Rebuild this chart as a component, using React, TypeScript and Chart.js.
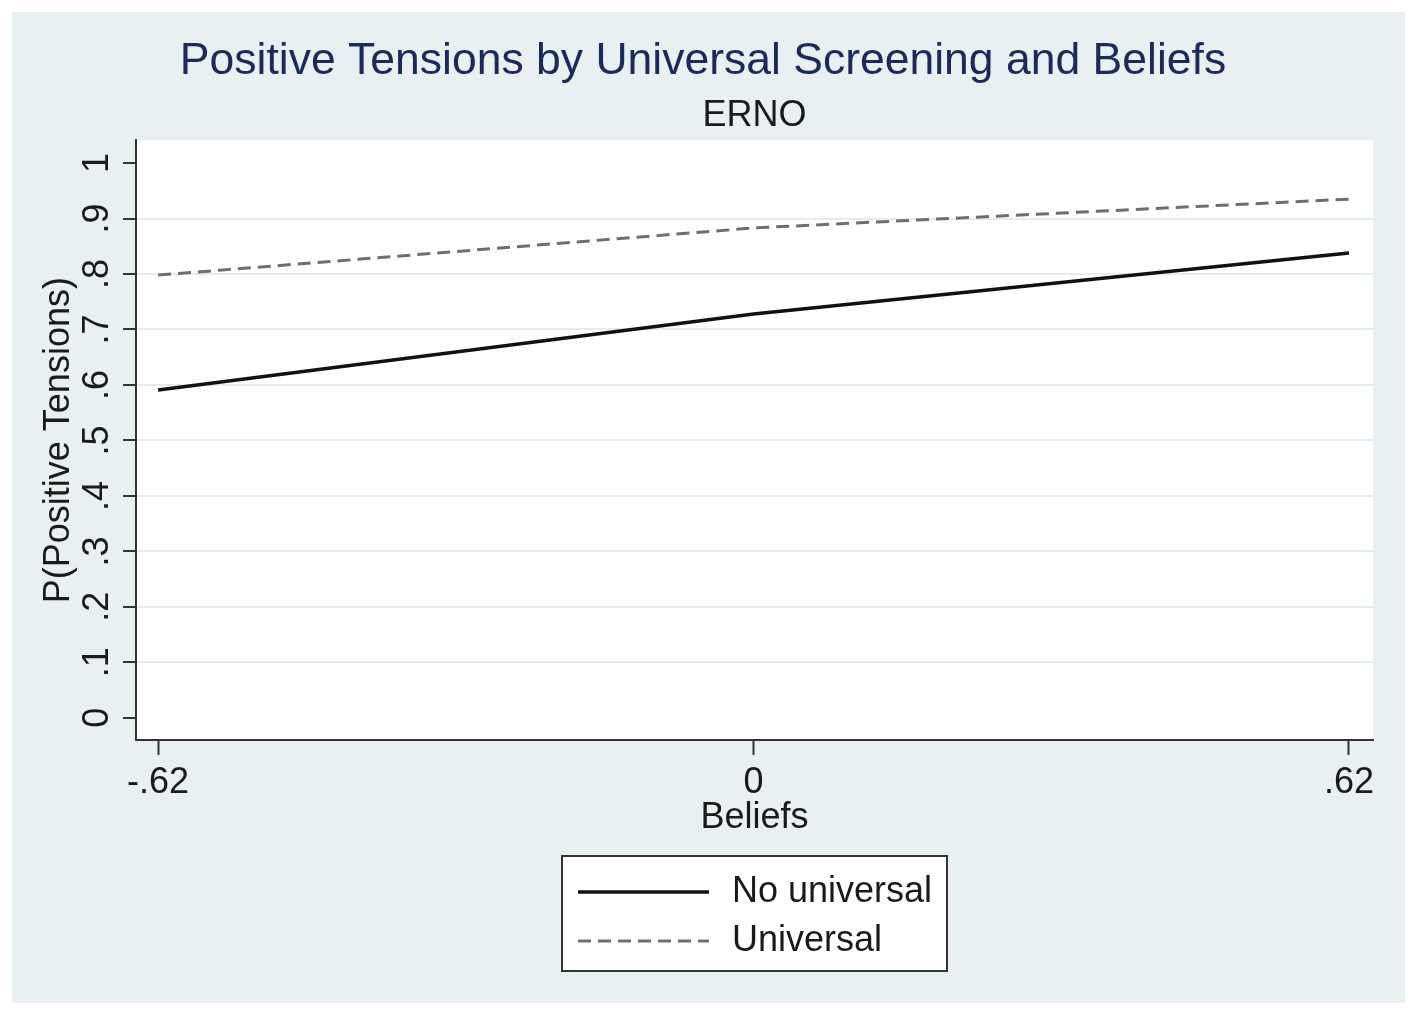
import { useEffect, useRef } from 'react'
import { Chart, registerables } from 'chart.js'

Chart.register(...registerables)

const FONT = "'Liberation Sans', Arial, sans-serif"

// margins at three values of Beliefs
const beliefs = [-0.62, 0, 0.62]
const noUniversal = [0.591, 0.728, 0.838]
const universal = [0.798, 0.883, 0.935]

const xTicks = [-0.62, 0, 0.62]
const xTickLabels = ['-.62', '0', '.62']
const yTicks = [0, 0.1, 0.2, 0.3, 0.4, 0.5, 0.6, 0.7, 0.8, 0.9, 1]
const yTickLabels = ['0', '.1', '.2', '.3', '.4', '.5', '.6', '.7', '.8', '.9', '1']

const seriesNames = ['No universal', 'Universal']

const BG = '#e8f0f1'
const GRID = '#e3ecee'
const AXIS = '#333333'
const TEXT = '#1a1a1a'

const backgroundPlugin = {
  id: 'stataBackground',
  beforeDraw(chart: any) {
    const { ctx, chartArea } = chart
    ctx.save()
    ctx.fillStyle = BG
    ctx.fillRect(0, 0, chart.width, chart.height)
    ctx.fillStyle = '#ffffff'
    ctx.fillRect(chartArea.left, chartArea.top, chartArea.right - chartArea.left, chartArea.bottom - chartArea.top)
    ctx.restore()
  }
}

// boxed legend with the two entries stacked, under the plot
const boxLegendPlugin = {
  id: 'boxLegend',
  afterDraw(chart: any) {
    const { ctx, chartArea } = chart
    const w = 385
    const h = 115
    const left = (chartArea.left + chartArea.right) / 2 - w / 2
    const top = 844
    ctx.save()
    ctx.fillStyle = '#ffffff'
    ctx.fillRect(left, top, w, h)
    ctx.strokeStyle = AXIS
    ctx.lineWidth = 2
    ctx.strokeRect(left, top, w, h)
    chart.data.datasets.forEach((ds: any, i: number) => {
      const y = top + 36 + i * 49
      ctx.beginPath()
      ctx.strokeStyle = ds.borderColor
      ctx.lineWidth = ds.borderWidth
      ctx.setLineDash(ds.borderDash || [])
      ctx.moveTo(left + 16, y)
      ctx.lineTo(left + 147, y)
      ctx.stroke()
      ctx.setLineDash([])
      ctx.fillStyle = TEXT
      ctx.font = `36px ${FONT}`
      ctx.textBaseline = 'middle'
      ctx.textAlign = 'left'
      ctx.fillText(ds.label, left + 170, y)
    })
    ctx.restore()
  }
}

export default function App() {
  const chartRef = useRef<HTMLCanvasElement>(null)
  const chartInstance = useRef<Chart | null>(null)

  useEffect(() => {
    if (!chartRef.current) return
    if (chartInstance.current) chartInstance.current.destroy()
    const ctx = chartRef.current.getContext('2d')
    if (!ctx) return

    const data = {
      datasets: [
        {
          label: seriesNames[0],
          data: beliefs.map((x, i) => ({ x, y: noUniversal[i] })),
          borderColor: '#111111',
          borderWidth: 3.5,
          pointRadius: 0,
          fill: false,
          tension: 0
        },
        {
          label: seriesNames[1],
          data: beliefs.map((x, i) => ({ x, y: universal[i] })),
          borderColor: '#6e6e6e',
          borderWidth: 3,
          borderDash: [13, 7],
          pointRadius: 0,
          fill: false,
          tension: 0
        }
      ]
    }

    const options: any = {
      responsive: false,
      animation: false,
      events: [],
      layout: {
        padding: { left: 21, right: 32, top: 0, bottom: 163 }
      },
      plugins: {
        legend: { display: false },
        tooltip: { enabled: false },
        title: {
          display: true,
          text: 'Positive Tensions by Universal Screening and Beliefs',
          color: '#1c2a5a',
          font: { family: FONT, size: 44.5, weight: 'normal', lineHeight: 1.2 },
          padding: { top: 23.5, bottom: 0 }
        },
        subtitle: {
          display: true,
          text: 'ERNO',
          fullSize: false,
          color: TEXT,
          font: { family: FONT, size: 36, weight: 'normal', lineHeight: 1.2 },
          padding: { top: 6, bottom: 2.2 }
        }
      },
      scales: {
        x: {
          type: 'linear',
          min: -0.643,
          max: 0.645,
          afterBuildTicks: (scale: any) => {
            scale.ticks = xTicks.map((v) => ({ value: v }))
          },
          afterFit: (scale: any) => {
            scale.height = 100
          },
          ticks: {
            callback: (_v: any, i: number) => xTickLabels[i],
            color: TEXT,
            font: { family: FONT, size: 36 },
            padding: 6.4,
            maxRotation: 0,
            autoSkip: false
          },
          grid: {
            drawOnChartArea: false,
            tickLength: 15,
            tickColor: AXIS,
            tickWidth: 2
          },
          border: { display: true, color: AXIS, width: 2 },
          title: {
            display: true,
            text: 'Beliefs',
            color: TEXT,
            font: { family: FONT, size: 36, lineHeight: 1.2 },
            padding: { top: 0, bottom: 0.4 }
          }
        },
        y: {
          type: 'linear',
          min: -0.04,
          max: 1.041,
          afterBuildTicks: (scale: any) => {
            scale.ticks = yTicks.map((v) => ({ value: v }))
          },
          afterFit: (scale: any) => {
            scale.width = 103
          },
          ticks: {
            callback: (_v: any, i: number) => yTickLabels[i],
            color: TEXT,
            font: { family: FONT, size: 36 },
            padding: 10,
            minRotation: 90,
            maxRotation: 90,
            crossAlign: 'center',
            autoSkip: false
          },
          grid: {
            color: (c: any) =>
              c.tick && (c.tick.value === yTicks[0] || c.tick.value === yTicks[yTicks.length - 1])
                ? 'rgba(0,0,0,0)'
                : GRID,
            lineWidth: 2,
            tickLength: 13,
            tickColor: AXIS,
            tickWidth: 2
          },
          border: { display: true, color: AXIS, width: 2 },
          title: {
            display: true,
            text: 'P(Positive Tensions)',
            color: TEXT,
            font: { family: FONT, size: 36, lineHeight: 1.2 },
            padding: { top: 4, bottom: 0 }
          }
        }
      }
    }

    chartInstance.current = new Chart(ctx, {
      type: 'line',
      data,
      options,
      plugins: [backgroundPlugin, boxLegendPlugin]
    })

    return () => {
      if (chartInstance.current) {
        chartInstance.current.destroy()
        chartInstance.current = null
      }
    }
  }, [])

  return (
    <div style={{ position: 'absolute', left: 12, top: 12, width: 1393, height: 991 }}>
      <canvas ref={chartRef} width={1393} height={991} />
    </div>
  )
}
